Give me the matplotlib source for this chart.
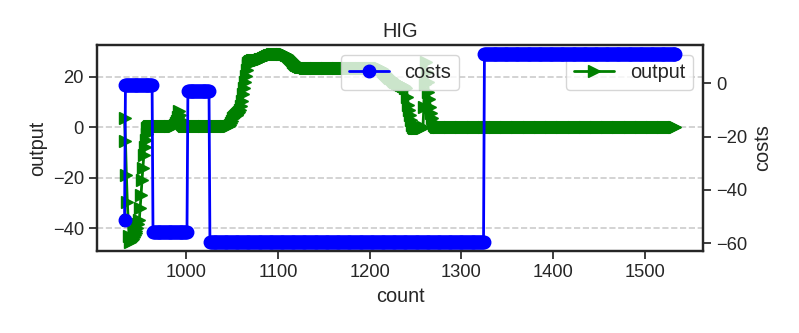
import numpy as np
import matplotlib
matplotlib.use("Agg")
import matplotlib.pyplot as plt
import seaborn as sns

# ---------------- data ----------------
first_count = 933
last_count = 1533

# costs: step series (level starts at given count, holds until next start)
costs_starts = [933, 934, 964, 1002, 1026, 1325]
costs_levels = [-51.3, -0.6, -55.7, -3.0, -59.4, 10.9]

# output: segments keyed by starting count
out_seg_933 = [3.5, -5.5, -19, -29.5, -37, -43, -45.4, -45.2, -44.8, -44.2,
               -43.5, -42.8, -42, -41, -40, -38.5, -37, -32, -27, -21,
               -16, -11, -8, -5, -2.5, -0.5, 0, 0.3]
out_seg_961 = [0.3] * 27
out_seg_988 = [0.8, 1.5, 2.5, 4, 6.5, 5, 3, 2, 1.2, 0.8]
out_seg_998 = [0.3] * 50
out_seg_1048 = [0.8, 1.5, 2.5, 3.5, 4.2, 4.6, 4.8, 5, 5.2, 5.5, 6, 7, 8.5,
                10.5, 13, 15.5, 18, 20.5, 22.5, 24.5, 25.5, 26, 26.3]
out_seg_1071 = [26.4, 26.5, 26.5, 26.6, 26.6, 26.7, 26.7, 26.8, 26.8, 26.9,
                27, 27.1, 27.2, 27.3, 27.5]
out_seg_1086 = [27.7, 27.9, 28.1, 28.3, 28.5, 28.6, 28.7, 28.8, 28.85]
out_seg_1095 = [28.9] * 14
out_seg_1109 = [28.7, 28.5, 28.2, 27.9, 27.5, 27.1, 26.7, 26.3, 25.9, 25.5,
                25.1, 24.8, 24.5, 24.3, 24.1, 24.0, 23.9, 23.8, 23.8, 23.7,
                23.7, 23.6]
out_seg_1131 = [23.6] * 80
out_seg_1211 = [23.4, 23.2, 22.9, 22.6, 22.3, 22.0, 21.6, 21.2, 20.8, 20.4,
                20.0, 19.7, 19.4, 19.1, 18.8, 18.5, 18.2, 18.0, 17.8, 17.6,
                17.4, 17.2, 17.0, 16.8, 16.6, 16.4, 16.2, 16.0, 15.7, 15.4,
                12, 9, 7, 5, 3, 1, 0]
out_seg_1248 = [-0.5] * 10
out_seg_1258 = [0, 8, 17, 26, 22, 18, 14, 11, 8, 5.5, 3.5, 2, 1, 0.3]
out_seg_1272 = [0.0] * 262

output_segments = [
    (933, out_seg_933), (961, out_seg_961), (988, out_seg_988),
    (998, out_seg_998), (1048, out_seg_1048), (1071, out_seg_1071),
    (1086, out_seg_1086), (1095, out_seg_1095), (1109, out_seg_1109),
    (1131, out_seg_1131), (1211, out_seg_1211), (1248, out_seg_1248),
    (1258, out_seg_1258), (1272, out_seg_1272),
]

# ---------------- build series ----------------
count = np.arange(first_count, last_count + 1)
output = np.full(count.size, np.nan)
for start, vals in output_segments:
    i0 = start - first_count
    vals = np.asarray(vals, dtype=float)
    n = min(vals.size, count.size - i0)
    output[i0:i0 + n] = vals[:n]
for i in range(1, output.size):
    if np.isnan(output[i]):
        output[i] = output[i - 1]

run_ends = costs_starts[1:] + [last_count + 1]
run_lengths = np.array(run_ends) - np.array(costs_starts)
costs = np.repeat(costs_levels, run_lengths)

# ---------------- style ----------------
sns.set_theme(style="ticks", font_scale=1.2)
plt.rcParams["font.family"] = ["Liberation Sans", "DejaVu Sans"]

fig = plt.figure(figsize=(7.99, 3.33), dpi=100)
ax1 = fig.add_axes([0.1214, 0.2462, 0.7584, 0.6187])
ax2 = ax1.twinx()

ax1.plot(count, output, color="green", marker=">", markersize=9,
         linewidth=2, label="output")
ax2.plot(count, costs, color="blue", marker="o", markersize=9,
         linewidth=2, label="costs")

ax1.set_xlabel("count")
ax1.set_ylabel("output")
ax2.set_ylabel("costs")
ax1.set_title("HIG")

ax1.set_yticks([-40, -20, 0, 20])
ax2.set_yticks([-60, -40, -20, 0])
ax1.set_xticks([1000, 1100, 1200, 1300, 1400, 1500])

ax1.yaxis.grid(True, linestyle="--", color="#cccccc", linewidth=1.2)
ax2.grid(False)

for ax in (ax1, ax2):
    for sp in ax.spines.values():
        sp.set_visible(True)
        sp.set_linewidth(1.6)
        sp.set_color("#262626")

ax1.legend(loc="upper right", fontsize=14.4)
ax2.legend(loc="upper center", fontsize=14.4)

fig.savefig("out.png", dpi=100)
